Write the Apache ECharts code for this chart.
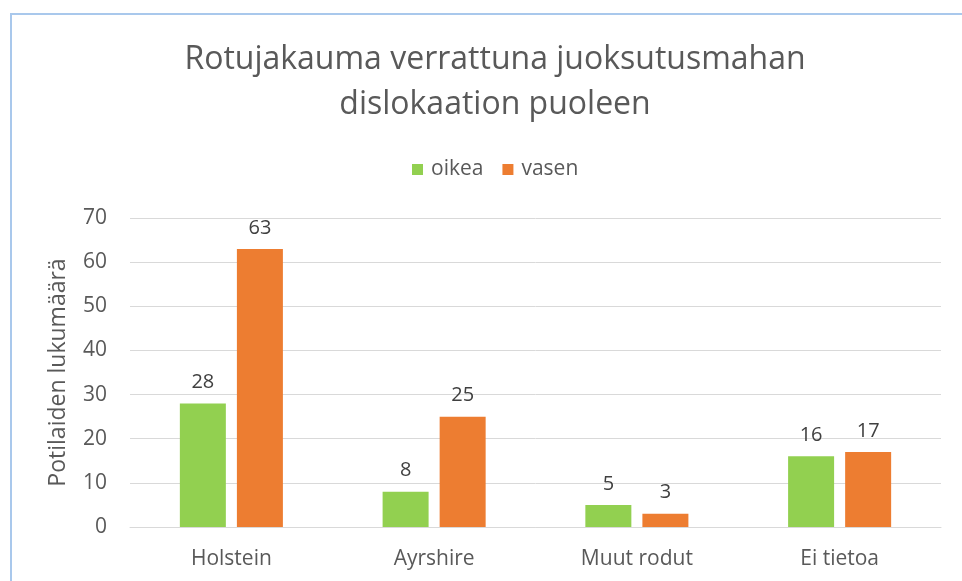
<!DOCTYPE html>
<html>
<head>
  <meta charset="utf-8">
  <title>Rotujakauma</title>
  <script src="https://cdn.jsdelivr.net/npm/echarts@6.0.0/dist/echarts.min.js"></script>
  <style>
    html, body { margin: 0; padding: 0; background: #fff; }
    #frame { position: absolute; left: 10px; top: 13px; width: 960px; height: 580px;
             border-left: 2px solid #a9c8ec; border-top: 2px solid #a9c8ec; }
    #main { position: absolute; left: 0; top: 0; width: 962px; height: 581px; }
  </style>
</head>
<body>
  <div id="frame"></div>
  <div id="main"></div>
  <script type="text/javascript">
    const categories = ['Holstein', 'Ayrshire', 'Muut rodut', 'Ei tietoa'];
    const oikea = [28, 8, 5, 16];
    const vasen = [63, 25, 3, 17];
    const yTicks = { min: 0, max: 70, interval: 10 };

    const font = '"Open Sans", "Noto Sans", sans-serif';
    const chart = echarts.init(document.getElementById('main'));

    const option = {
      animation: false,
      textStyle: { fontFamily: font },
      title: {
        text: 'Rotujakauma verrattuna juoksutusmahan\ndislokaation puoleen',
        left: 490,
        textAlign: 'center',
        top: 32,
        textStyle: { fontSize: 32, fontWeight: 'normal', color: '#595959', lineHeight: 45, fontFamily: font }
      },
      legend: {
        data: ['oikea', 'vasen'],
        top: 154,
        left: 407,
        itemWidth: 11,
        itemHeight: 11,
        itemGap: 19,
        icon: 'rect',
        textStyle: { fontSize: 21, color: '#595959', fontFamily: font, padding: [0, 0, 0, 3] }
      },
      grid: { left: 130, right: 21, top: 218, bottom: 54, containLabel: false },
      xAxis: {
        type: 'category',
        data: categories,
        axisLine: { lineStyle: { color: '#d9d9d9', width: 1 } },
        axisTick: { show: false },
        axisLabel: { fontSize: 21, color: '#595959', margin: 22, fontFamily: font }
      },
      yAxis: {
        type: 'value',
        min: yTicks.min,
        max: yTicks.max,
        interval: yTicks.interval,
        name: 'Potilaiden lukumäärä',
        nameLocation: 'middle',
        nameGap: 60,
        nameTextStyle: { fontSize: 23, color: '#595959', fontFamily: font },
        axisLine: { show: false },
        axisTick: { show: false },
        splitLine: { lineStyle: { color: '#d9d9d9', width: 1 } },
        axisLabel: { fontSize: 21, color: '#595959', margin: 23, fontFamily: font }
      },
      series: [
        {
          name: 'oikea',
          type: 'bar',
          data: oikea,
          barWidth: 46,
          barGap: '24%',
          itemStyle: { color: '#92d050' },
          label: { show: true, position: 'top', distance: 11, fontSize: 20, color: '#404040', fontFamily: font }
        },
        {
          name: 'vasen',
          type: 'bar',
          data: vasen,
          barWidth: 46,
          barGap: '24%',
          itemStyle: { color: '#ed7d31' },
          label: { show: true, position: 'top', distance: 11, fontSize: 20, color: '#404040', fontFamily: font }
        }
      ]
    };

    chart.setOption(option);
  </script>
</body>
</html>
